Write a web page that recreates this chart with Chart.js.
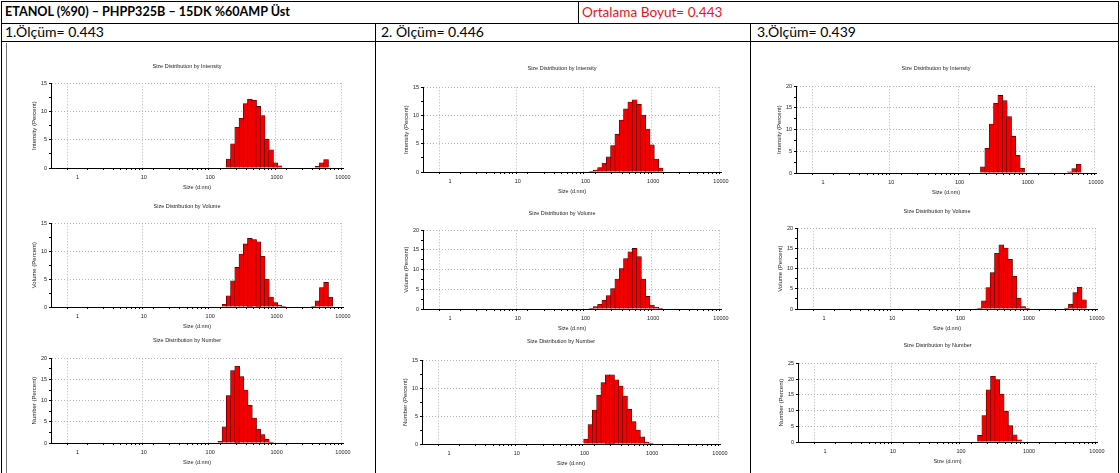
<!DOCTYPE html>
<html lang="tr">
<head>
<meta charset="UTF-8">
<title>ETANOL (%90) – PHPP325B – 15DK %60AMP Üst</title>
<script src="https://cdn.jsdelivr.net/npm/chart.js@4.4.4/dist/chart.umd.min.js"></script>
<style>
  body { margin: 0; background: #fff; }
  #page { position: relative; width: 1120px; height: 473px; overflow: hidden; background: #fff; }
  .ln { position: absolute; background: #000; }
  .txt { position: absolute; font-family: Lato, "Open Sans", sans-serif; font-size: 14px; line-height: 16px; white-space: nowrap; color: #000; }
  canvas { position: absolute; }
</style>
</head>
<body>
<div id="page">
  <!-- tablo çizgileri -->
  <div class="ln" style="left:1px;top:1px;width:1118px;height:1px"></div>
  <div class="ln" style="left:1px;top:23px;width:1118px;height:1px"></div>
  <div class="ln" style="left:1px;top:41px;width:1118px;height:1px"></div>
  <div class="ln" style="left:1px;top:1px;width:1px;height:472px"></div>
  <div class="ln" style="left:1118px;top:1px;width:1px;height:472px"></div>
  <div class="ln" style="left:578px;top:1px;width:1px;height:23px"></div>
  <div class="ln" style="left:375px;top:23px;width:1px;height:450px"></div>
  <div class="ln" style="left:750px;top:23px;width:1px;height:450px"></div>
  <div class="ln" style="left:6px;top:43px;width:1px;height:430px;background:#777"></div>

  <div class="txt" style="left:5px;top:4px;font-weight:bold;font-size:12.6px">ETANOL (%90) – PHPP325B – 15DK %60AMP Üst</div>
  <div class="txt" style="left:582px;top:4px;color:#e3161b;font-size:13.6px">Ortalama Boyut= 0.443</div>
  <div class="txt" style="left:5px;top:24px">1.Ölçüm= 0.443</div>
  <div class="txt" style="left:381px;top:24px">2. Ölçüm= 0.446</div>
  <div class="txt" style="left:757px;top:24px">3.Ölçüm= 0.439</div>
</div>

<script>
// Boyut sınıfları (d.nm)
const sizeBins = [105.7, 122.4, 141.8, 164.2, 190.1, 220.2, 255.0, 295.3, 342.0, 396.1, 458.7, 531.2,
                  615.1, 712.4, 825.0, 955.4, 1106, 1281, 3580, 4145, 4801, 5560, 6439];

// 1. ölçüm
const int1 = [null, null, null, null, 1.6, 4.3, 7.2, 8.8, 11.4, 12.2, 12.0, 10.9, 9.3, 5.1, 3.2, 0.9, 0.4, null, null, 0.3, 0.9, 1.5, null];
const vol1 = [null, null, null, 0.5, 2.0, 4.7, 7.1, 9.5, 11.3, 12.3, 12.1, 11.7, 9.1, 5.0, 1.8, 0.8, 0.35, 0.1, 0.1, 1.1, 3.5, 4.4, 1.8];
const num1 = [null, null, 0.4, 3.8, 11.2, 17.1, 18.1, 15.7, 12.5, 8.9, 5.9, 3.3, 2.0, 0.9, 0.2, null, null, null, null, null, null, null, null];

// 2. ölçüm
const int2 = [null, 0.1, 0.35, 0.8, 1.6, 2.7, 4.7, 6.7, 9.2, 11.2, 12.4, 12.8, 12.0, 10.1, 7.6, 4.8, 2.3, 0.7, null, null, null, null, null];
const vol2 = [null, 0.15, 0.6, 1.2, 2.2, 3.4, 5.2, 7.6, 10.3, 12.8, 14.5, 15.4, 13.3, 7.6, 3.2, 1.0, 0.5, 0.2, null, null, null, null, null];
const num2 = [0.9, 3.5, 6.1, 8.75, 11.0, 12.4, 12.4, 11.5, 10.4, 8.6, 6.25, 4.0, 2.5, 1.3, 0.35, 0.15, null, null, null, null, null, null, null];

// 3. ölçüm
const int3 = [null, null, null, null, null, 1.4, 5.7, 11.3, 16.1, 17.9, 16.7, 13.0, 8.5, 4.1, 1.1, null, null, null, null, 0.25, 1.0, 2.0, null];
const vol3 = [null, null, null, null, 0.2, 2.0, 5.3, 9.0, 13.8, 15.9, 15.1, 12.3, 8.1, 2.7, 0.6, 0.15, null, null, 0.2, 1.2, 4.1, 5.4, 2.3];
const num3 = [null, null, null, null, 2.1, 8.4, 16.6, 20.9, 19.8, 15.2, 9.8, 5.2, 2.3, 0.7, null, null, null, null, null, null, null, null, null];

// eksenler
const xMin = 0.4, xMax = 10000;
const xMajor = [1, 10, 100, 1000, 10000];
const xTitle = 'Size (d.nm)';

const panels = [
  { title: 'Size Distribution by Intensity', yTitle: 'Intensity (Percent)', values: int1, yMax: 15, box: [51, 343, 83, 168, 66] },
  { title: 'Size Distribution by Volume',    yTitle: 'Volume (Percent)',    values: vol1, yMax: 15, box: [51, 343, 223, 307, 206] },
  { title: 'Size Distribution by Number',    yTitle: 'Number (Percent)',    values: num1, yMax: 20, box: [51, 343, 358, 443, 340] },
  { title: 'Size Distribution by Intensity', yTitle: 'Intensity (Percent)', values: int2, yMax: 15, box: [423, 721, 87, 172, 68] },
  { title: 'Size Distribution by Volume',    yTitle: 'Volume (Percent)',    values: vol2, yMax: 20, box: [423, 721, 230, 309, 213] },
  { title: 'Size Distribution by Number',    yTitle: 'Number (Percent)',    values: num2, yMax: 15, box: [422, 720, 360, 444, 341] },
  { title: 'Size Distribution by Intensity', yTitle: 'Intensity (Percent)', values: int3, yMax: 20, box: [796, 1096, 86, 173, 68] },
  { title: 'Size Distribution by Volume',    yTitle: 'Volume (Percent)',    values: vol3, yMax: 20, box: [797, 1097, 228, 309, 211] },
  { title: 'Size Distribution by Number',    yTitle: 'Number (Percent)',    values: num3, yMax: 25, box: [798, 1097, 363, 442, 345] }
];

// küçük x çentikleri: 1..9 her onlukta
const xTicks = [];
xMajor.slice(0, -1).forEach(d => { for (let m = 1; m < 10; m++) xTicks.push(m * d); });
xTicks.push(xMajor[xMajor.length - 1]);

const FONT = '"Liberation Sans", Arial, sans-serif';
const GRID = '#b5b5b5';
const YW = 20, XH = 23, RP = 14;

const page = document.getElementById('page');

panels.forEach(p => {
  const [L, R, T, B, titleY] = p.box;
  const canvas = document.createElement('canvas');
  const top = titleY - 3;
  canvas.width = R - L + YW + RP;
  canvas.height = B - top + XH;
  canvas.style.left = (L - YW) + 'px';
  canvas.style.top = top + 'px';
  page.appendChild(canvas);

  // bir sınıfın piksel genişliği (+ küçük bindirme, aralarda beyaz çizgi kalmasın)
  const binPx = (R - L) * Math.log10(sizeBins[1] / sizeBins[0]) / Math.log10(xMax / xMin) + 0.6;
  const data = sizeBins.map((s, i) => ({ x: s, y: p.values[i] })).filter(d => d.y !== null);

  new Chart(canvas.getContext('2d'), {
    type: 'bar',
    data: {
      datasets: [{
        data: data,
        backgroundColor: '#f00000',
        borderColor: '#2a0000',
        borderWidth: 0.6,
        borderSkipped: 'start',
        barThickness: binPx
      }]
    },
    options: {
      responsive: false,
      animation: false,
      events: [],
      layout: { padding: { left: 0, right: RP, top: 0, bottom: 0 } },
      plugins: {
        legend: { display: false },
        tooltip: { enabled: false },
        title: {
          display: true,
          text: p.title,
          color: '#222',
          font: { family: FONT, size: 5.5, weight: 'normal' },
          padding: { top: 0, bottom: T - titleY - 3.3 }
        }
      },
      scales: {
        x: {
          type: 'logarithmic',
          min: xMin,
          max: xMax,
          afterBuildTicks: s => { s.ticks = xTicks.map(v => ({ value: v, major: xMajor.includes(v) })); },
          afterFit: s => { s.height = XH; },
          ticks: {
            autoSkip: false,
            maxRotation: 0,
            padding: 4,
            color: '#222',
            font: { family: FONT, size: 5.5 },
            callback: v => xMajor.includes(v) ? String(v) : ''
          },
          grid: {
            color: c => (c.tick && c.tick.major) ? GRID : 'rgba(0,0,0,0)',
            tickColor: '#000',
            tickLength: 2
          },
          border: { color: '#000', width: 1, dash: [1, 2] },
          title: { display: true, text: xTitle, color: '#222', font: { family: FONT, size: 5.5 }, padding: 0 }
        },
        y: {
          min: 0,
          max: p.yMax,
          afterFit: s => { s.width = YW; },
          ticks: {
            stepSize: 2.5,
            padding: 2,
            color: '#222',
            font: { family: FONT, size: 5.5 },
            callback: v => v % 5 === 0 ? String(v) : ''
          },
          grid: {
            color: c => (c.tick && c.tick.value % 5 === 0) ? GRID : 'rgba(0,0,0,0)',
            tickColor: '#000',
            tickLength: 2
          },
          border: { color: '#000', width: 1, dash: [1, 2] },
          title: { display: true, text: p.yTitle, color: '#222', font: { family: FONT, size: 6 }, padding: 0 }
        }
      }
    }
  });
});
</script>
</body>
</html>
